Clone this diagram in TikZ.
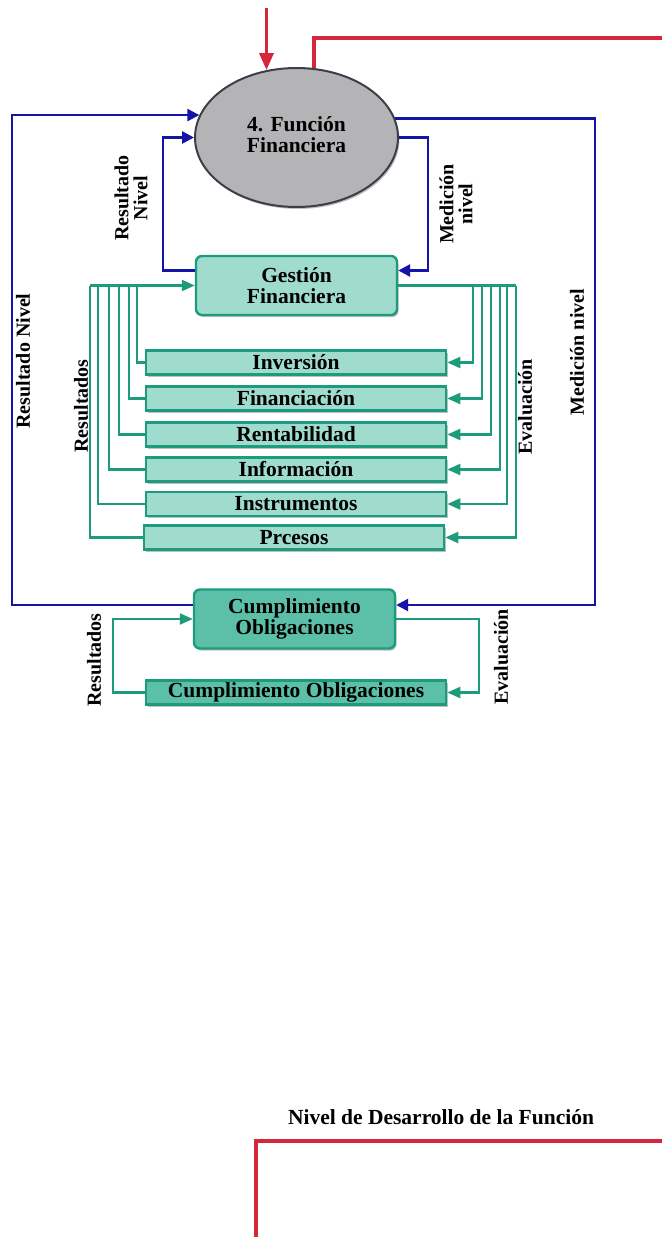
\documentclass[tikz,border=0pt]{standalone}
\usepackage{fontspec}
\setmainfont{Liberation Serif}
\usetikzlibrary{shapes.geometric,arrows.meta,calc,shadows}
\definecolor{bl}{RGB}{20,20,168}
\definecolor{rd}{RGB}{214,38,58}
\definecolor{gr}{RGB}{28,155,125}
\definecolor{lfill}{RGB}{160,220,206}
\definecolor{dfill}{RGB}{92,192,168}
\definecolor{ellf}{RGB}{180,180,182}
\definecolor{elld}{RGB}{58,63,72}
\begin{document}
\begin{tikzpicture}[x=1pt,y=-1pt,
  txt/.style={font=\bfseries\fontsize{21.5}{21.5}\selectfont, align=center, text=black},
  lbl/.style={font=\bfseries\fontsize{20}{19}\selectfont, align=center, text=black, inner sep=0pt},
  shad/.style={drop shadow={shadow xshift=1.5pt, shadow yshift=-2pt, opacity=0.25, fill=black}},
  ell/.style={ellipse, draw=elld, line width=2pt, fill=ellf, minimum width=203pt, minimum height=139pt, inner sep=0pt, txt, shad},
  gbox/.style={rectangle, rounded corners=6pt, draw=gr, line width=2.4pt, fill=lfill, minimum width=201pt, minimum height=59pt, inner sep=0pt, txt, shad},
  cbox/.style={gbox, fill=dfill},
  sub/.style={rectangle, draw=gr, line width=2.6pt, fill=lfill, minimum width=300pt, minimum height=24pt, inner sep=0pt, txt, shad},
  csub/.style={sub, fill=dfill},
  gl/.style={draw=gr, line width=2.2pt},
  bln/.style={draw=bl, line width=2.6pt},
  rdl/.style={draw=rd, line width=3.4pt},
  garr/.style={-{Triangle[length=13pt,width=11pt]}},
  barr/.style={-{Triangle[length=12pt,width=12pt]}},
  rarr/.style={-{Triangle[length=17pt,width=14pt]}}
]
\useasboundingbox (0,0) rectangle (662,1237);

% nodes
\node[ell] (fun) at (296.5,137.5) {\raisebox{-3pt}{\begin{tabular}{@{}c@{}}4. Función\\Financiera\end{tabular}}};
\node[gbox] (ges) at (296.5,285.5) {Gestión\\Financiera};
\node[sub] (inv) at (296,362.5) {Inversión};
\node[sub] (fin) at (296,398.5) {Financiación};
\node[sub] (ren) at (296,434.5) {Rentabilidad};
\node[sub] (inf) at (296,469.5) {Información};
\node[sub] (ins) at (296,504) {Instrumentos};
\node[sub] (prc) at (294,537.5) {Prcesos};
\node[cbox] (cum) at (294.5,619) {Cumplimiento\\Obligaciones};
\node[csub] (cob) at (296,692.5) {Cumplimiento Obligaciones};

% labels
\node[lbl,rotate=90] (rn1) at (23,361) {Resultado Nivel};
\node[lbl,rotate=90] (rn2) at (131,198) {Resultado\\Nivel};
\node[lbl,rotate=90] (mn2) at (456,204) {Medición\\nivel};
\node[lbl,rotate=90] (mn1) at (577,352) {Medición nivel};
\node[lbl,rotate=90] (res1) at (81,406) {Resultados};
\node[lbl,rotate=90] (ev1) at (525,407) {Evaluación};
\node[lbl,rotate=90] (res2) at (94,660) {Resultados};
\node[lbl,rotate=90] (ev2) at (501,657) {Evaluación};
\node[txt] (tit) at (441,1117) {Nivel de Desarrollo de la Función};

% coordinates
\coordinate (L1) at (137,0); \coordinate (L2) at (129,0); \coordinate (L3) at (119,0);
\coordinate (L4) at (109,0); \coordinate (L5) at (98,0);  \coordinate (L6) at (90,0);
\coordinate (R1) at (473,0); \coordinate (R2) at (482,0); \coordinate (R3) at (491,0);
\coordinate (R4) at (500,0); \coordinate (R5) at (507,0); \coordinate (R6) at (516,0);
\coordinate (CL) at (113,0); \coordinate (CR) at (479,0);
\coordinate (B1) at (12,0); \coordinate (B2) at (163,0); \coordinate (B3) at (428,0); \coordinate (B4) at (595,0);
\coordinate (gesW) at ($(ges.west)+(0,-15)$);
\coordinate (gesE) at ($(ges.east)+(0,-15)$);
\coordinate (cumW) at ($(cum.west)+(0,-14)$);
\coordinate (cumE) at ($(cum.east)+(0,-14)$);

% green connectors (results)
\draw[gl] (inv.west) -| (L1 |- ges.west);
\draw[gl] (fin.west) -| (L2 |- ges.west);
\draw[gl] (ren.west) -| (L3 |- ges.west);
\draw[gl] (inf.west) -| (L4 |- ges.west);
\draw[gl] (ins.west) -| (L5 |- ges.west);
\draw[gl] (prc.west) -| (L6 |- ges.west);
\draw[gl,garr] (L6 |- ges.west) -- (ges.west);
% green connectors (evaluation)
\draw[gl] (ges.east) -- (R6 |- ges.east);
\draw[gl,garr] (R1 |- ges.east) |- (inv.east);
\draw[gl,garr] (R2 |- ges.east) |- (fin.east);
\draw[gl,garr] (R3 |- ges.east) |- (ren.east);
\draw[gl,garr] (R4 |- ges.east) |- (inf.east);
\draw[gl,garr] (R5 |- ges.east) |- (ins.east);
\draw[gl,garr] (R6 |- ges.east) |- (prc.east);
% cumplimiento loop
\draw[gl,garr] (cob.west) -| (CL |- cum.west) -- (cum.west);
\draw[gl,garr] (cum.east) -| (CR |- cob.east) -- (cob.east);

% blue connectors
\draw[bln,barr] (gesW) -| (B2 |- fun.180) -- (fun.180);
\draw[bln,barr] (fun.0) -| (B3 |- gesE) -- (gesE);
\draw[bln,barr] (cumW) -| (B1 |- fun.167) -- (fun.167);
\draw[bln,barr] (fun.11) -| (B4 |- cumE) -- (cumE);

% red connectors
\coordinate (rtop) at (0,8);
\coordinate (rR) at (662,38);
\draw[rdl,rarr] (fun.114 |- rtop) -- (fun.114);
\draw[rdl] (fun.76) |- (rR);
\coordinate (rb1) at (256,1237);
\coordinate (rb2) at (662,1141);
\draw[rdl] (rb1) |- (rb2);
\end{tikzpicture}
\end{document}
